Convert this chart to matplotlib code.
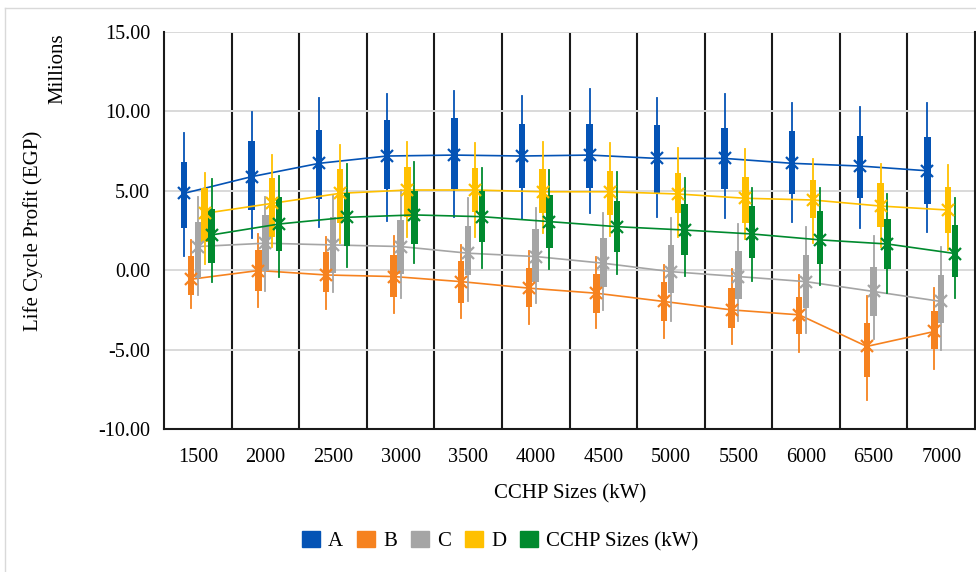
import numpy as np
import matplotlib
matplotlib.use("Agg")
import matplotlib.pyplot as plt
from matplotlib.patches import Patch
from matplotlib.lines import Line2D

plt.rcParams['font.family'] = ['Liberation Serif', 'DejaVu Serif']
plt.rcParams['axes.unicode_minus'] = False

# CCHP sizes (kW) on the x axis
sizes = ["1500", "2000", "2500", "3000", "3500", "4000",
         "4500", "5000", "5500", "6000", "6500", "7000"]

series = ["A", "B", "C", "D", "CCHP Sizes (kW)"]
colors = ["#0453B5", "#F6821F", "#A5A5A5", "#FFC000", "#008A2E"]

# life cycle profit, millions EGP -- one row per series (A, B, C, D, E)
whisker_hi = [
    [8.62, 9.97, 10.82, 11.09, 11.28, 10.96, 11.38, 10.82, 11.07, 10.54, 10.25, 10.54],
    [1.91, 2.26, 2.11, 2.16, 1.59, 1.21, 0.86, 0.33, 0.06, -0.30, -1.62, -1.13],
    [4.59, 4.59, 4.74, 5.05, 4.53, 3.90, 3.58, 3.27, 2.91, 2.74, 2.18, 1.45],
    [6.14, 7.25, 7.88, 8.09, 7.99, 8.05, 8.03, 7.71, 7.63, 6.98, 6.67, 6.62],
    [5.72, 5.93, 6.67, 6.83, 6.42, 6.31, 6.20, 5.83, 5.16, 5.16, 4.78, 4.53],
]
q3 = [
    [6.83, 8.15, 8.82, 9.45, 9.60, 9.18, 9.20, 9.14, 8.93, 8.76, 8.45, 8.36],
    [0.90, 1.28, 1.17, 0.96, 0.60, 0.16, -0.25, -0.72, -1.13, -1.66, -3.33, -2.56],
    [3.02, 3.48, 3.33, 3.16, 2.81, 2.58, 2.01, 1.59, 1.23, 0.96, 0.23, -0.30],
    [5.20, 5.83, 6.37, 6.48, 6.45, 6.35, 6.26, 6.14, 5.89, 5.68, 5.47, 5.22],
    [3.86, 4.59, 4.84, 4.99, 4.99, 4.74, 4.36, 4.17, 4.04, 3.73, 3.23, 2.85],
]
q1 = [
    [2.64, 3.79, 4.46, 5.09, 5.09, 5.16, 5.16, 4.80, 5.09, 4.78, 4.57, 4.17],
    [-1.55, -1.30, -1.38, -1.70, -2.04, -2.29, -2.67, -3.17, -3.65, -4.01, -6.75, -4.97],
    [-0.46, -0.02, -0.19, -0.23, -0.30, -0.75, -1.03, -1.45, -1.81, -2.39, -2.87, -3.33],
    [1.80, 2.11, 2.96, 3.37, 3.69, 3.58, 3.48, 3.62, 2.99, 3.27, 2.70, 2.33],
    [0.48, 1.23, 1.55, 1.65, 1.76, 1.42, 1.13, 0.96, 0.79, 0.38, 0.08, -0.40],
]
whisker_lo = [
    [0.90, 2.01, 2.74, 3.12, 3.37, 3.23, 3.58, 3.37, 3.27, 3.06, 2.64, 2.43],
    [-2.35, -2.29, -2.43, -2.67, -3.02, -3.38, -3.65, -4.28, -4.65, -5.12, -8.16, -6.23],
    [-1.55, -1.34, -1.38, -1.76, -1.91, -2.08, -2.50, -3.17, -3.23, -3.96, -4.34, -5.01],
    [0.38, 1.49, 1.70, 2.11, 2.11, 2.33, 2.16, 2.11, 1.95, 1.70, 1.49, 1.28],
    [-0.75, -0.44, 0.19, 0.44, 0.16, 0.08, -0.23, -0.36, -0.65, -0.92, -1.45, -1.76],
]
means = [
    [4.84, 5.89, 6.73, 7.19, 7.25, 7.19, 7.25, 7.04, 7.04, 6.73, 6.56, 6.26],
    [-0.57, -0.02, -0.30, -0.40, -0.72, -1.13, -1.45, -1.97, -2.50, -2.81, -4.80, -3.86],
    [1.49, 1.70, 1.59, 1.49, 1.07, 0.86, 0.44, -0.09, -0.40, -0.72, -1.34, -1.97],
    [3.58, 4.21, 4.84, 5.05, 5.05, 4.94, 4.94, 4.80, 4.53, 4.42, 4.04, 3.79],
    [2.22, 2.91, 3.33, 3.48, 3.37, 3.06, 2.74, 2.53, 2.28, 1.91, 1.65, 1.05],
]

fig = plt.figure(figsize=(9.76, 5.72), dpi=100)
ax = fig.add_axes([164 / 976, 1 - 429 / 572, 811 / 976, 397 / 572])

x = np.arange(len(sizes))
for k, (name, c) in enumerate(zip(series, colors)):
    pos = x + (k - 2) * 0.102
    stats = []
    for i in range(len(sizes)):
        stats.append(dict(whislo=whisker_lo[k][i], q1=q1[k][i], med=means[k][i],
                          q3=q3[k][i], whishi=whisker_hi[k][i], mean=means[k][i]))
    ax.bxp(stats, positions=pos, widths=0.095, patch_artist=True,
           showmeans=True, showcaps=False, showfliers=False, manage_ticks=False,
           boxprops=dict(facecolor=c, edgecolor=c, linewidth=0),
           whiskerprops=dict(color=c, linewidth=1.3),
           medianprops=dict(color=c, linewidth=0),
           meanprops=dict(marker='x', markeredgecolor=c, markersize=8,
                          markeredgewidth=1.6))
    ax.plot(pos, means[k], color=c, linewidth=1.2)

ax.set_xlim(-0.5, len(sizes) - 0.5)
ax.set_ylim(-10, 15)
ax.set_yticks(np.arange(-10, 16, 5))
ax.yaxis.set_major_formatter(matplotlib.ticker.StrMethodFormatter("{x:.2f}"))
ax.set_xticks(x)
ax.set_xticklabels(sizes)
ax.set_xticks(np.arange(0.5, len(sizes) - 1, 1), minor=True)
ax.tick_params(axis='both', which='both', length=0, labelsize=14.5)
ax.tick_params(axis='y', pad=10)
ax.tick_params(axis='x', pad=14)

ax.set_axisbelow(True)
ax.yaxis.grid(True, color='#d9d9d9', linewidth=1.4)
ax.xaxis.grid(True, which='minor', color='#1a1a1a', linewidth=1.5)
ax.spines['top'].set_visible(False)
for s in ['left', 'right', 'bottom']:
    ax.spines[s].set_color('#1a1a1a')
    ax.spines[s].set_linewidth(1.5)

fig.text(33 / 976, 1 - 231 / 572, "Life Cycle Profit (EGP)", rotation=90,
         ha='center', va='center', fontsize=15)
fig.text(58 / 976, 1 - 33 / 572, "Millions", rotation=90,
         ha='center', va='top', fontsize=15)
fig.text(570 / 976, 1 - 494 / 572, "CCHP Sizes (kW)", ha='center',
         va='center', fontsize=15)

handles = [Patch(facecolor=c, edgecolor=c) for c in colors]
fig.legend(handles, series, loc='center', bbox_to_anchor=(500 / 976, 1 - 541 / 572),
           ncol=5, frameon=False, handlelength=0.87, handleheight=0.82,
           handletextpad=0.4, columnspacing=0.65, fontsize=15)

# light chart-area border
fig.add_artist(Line2D([5 / 976, 5 / 976], [0, 1 - 8 / 572], color='#d9d9d9', lw=1))
fig.add_artist(Line2D([5 / 976, 1], [1 - 8 / 572, 1 - 8 / 572], color='#d9d9d9', lw=1))

fig.savefig("out.png", dpi=100)
